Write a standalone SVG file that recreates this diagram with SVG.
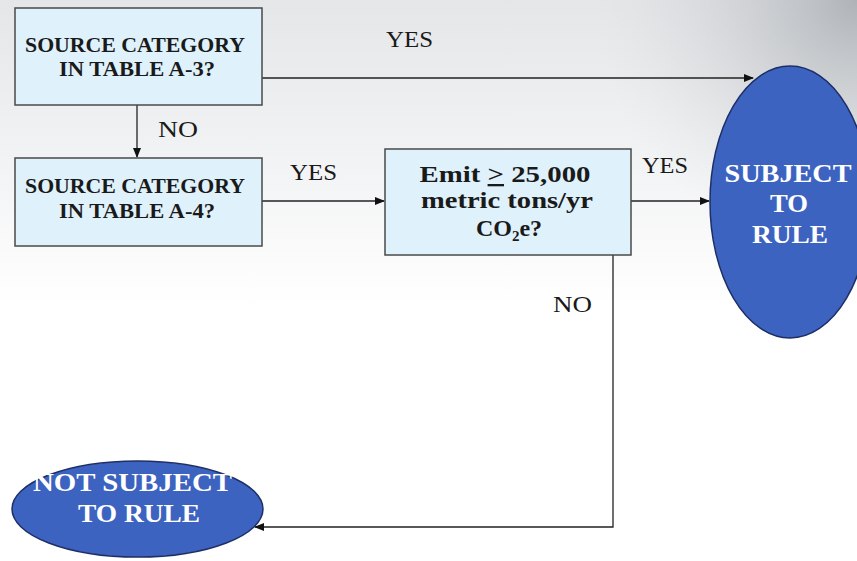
<svg xmlns="http://www.w3.org/2000/svg" width="857" height="561" viewBox="0 0 857 561">
<defs>
<linearGradient id="bg" x1="0" y1="0" x2="0" y2="1">
<stop offset="0" stop-color="#e4e6e8"/>
<stop offset="0.55" stop-color="#ffffff"/>
<stop offset="1" stop-color="#ffffff"/>
</linearGradient>
<radialGradient id="corner" cx="857" cy="0" r="260" gradientUnits="userSpaceOnUse">
<stop offset="0" stop-color="#a9adb2" stop-opacity="0.9"/>
<stop offset="1" stop-color="#d8dadd" stop-opacity="0"/>
</radialGradient>
<marker id="arr" markerWidth="10" markerHeight="8" refX="9" refY="4" orient="auto" markerUnits="userSpaceOnUse">
<path d="M0,0 L10,4 L0,8 Z" fill="#111"/>
</marker>
<style>
text{font-family:"Liberation Serif","DejaVu Serif",serif}
.box{fill:#dff1fb;stroke:#4a4a4a;stroke-width:1.5}
.ell{fill:#3d63c0;stroke:#1f2f66;stroke-width:1.5}
.bt{font-weight:bold;fill:#1a1a1a;text-anchor:middle}
.wt{font-weight:bold;fill:#ffffff;text-anchor:middle}
.lbl{font-size:24px;fill:#1a1a1a}
.con{fill:none;stroke:#222;stroke-width:1.3}
</style>
</defs>
<rect width="857" height="561" fill="url(#bg)"/>
<rect width="857" height="561" fill="url(#corner)"/>

<g id="connectors">
<line class="con" x1="137" y1="105" x2="137" y2="157" marker-end="url(#arr)"/>
<line class="con" x1="262" y1="78" x2="753" y2="78" marker-end="url(#arr)"/>
<line class="con" x1="262" y1="201" x2="384" y2="201" marker-end="url(#arr)"/>
<line class="con" x1="631" y1="201" x2="709" y2="201" marker-end="url(#arr)"/>
<polyline class="con" points="613,255 613,527 255,527" marker-end="url(#arr)"/>
<text class="lbl" x="386" y="47" textLength="47" lengthAdjust="spacingAndGlyphs">YES</text>
<text class="lbl" x="158" y="137" textLength="40" lengthAdjust="spacingAndGlyphs">NO</text>
<text class="lbl" x="290" y="180" textLength="47" lengthAdjust="spacingAndGlyphs">YES</text>
<text class="lbl" x="642" y="173" textLength="46" lengthAdjust="spacingAndGlyphs">YES</text>
<text class="lbl" x="553" y="312" textLength="39" lengthAdjust="spacingAndGlyphs">NO</text>
</g>

<g id="a3">
<rect class="box" x="15" y="8" width="247" height="97"/>
<text class="bt" font-size="21" x="135" y="52" textLength="220" lengthAdjust="spacingAndGlyphs">SOURCE CATEGORY</text>
<text class="bt" font-size="21" x="137" y="76" textLength="156" lengthAdjust="spacingAndGlyphs">IN TABLE A-3?</text>
</g>

<g id="a4">
<rect class="box" x="15" y="158" width="247" height="88"/>
<text class="bt" font-size="21" x="135" y="193" textLength="220" lengthAdjust="spacingAndGlyphs">SOURCE CATEGORY</text>
<text class="bt" font-size="21" x="137" y="218" textLength="156" lengthAdjust="spacingAndGlyphs">IN TABLE A-4?</text>
</g>

<g id="emit">
<rect class="box" x="385" y="149" width="246" height="106"/>
<text class="bt" font-size="23" x="505" y="182" textLength="171" lengthAdjust="spacingAndGlyphs">Emit <tspan text-decoration="underline">&gt;</tspan> 25,000</text>
<text class="bt" font-size="23" x="507" y="208" textLength="172" lengthAdjust="spacingAndGlyphs">metric tons/yr</text>
<text class="bt" font-size="24" x="509" y="236">CO<tspan font-size="15" dy="5">2</tspan><tspan dy="-5">e?</tspan></text>
</g>

<g id="subject">
<ellipse class="ell" cx="790" cy="202" rx="80" ry="136"/>
<text class="wt" font-size="25" x="788" y="182" textLength="127" lengthAdjust="spacingAndGlyphs">SUBJECT</text>
<text class="wt" font-size="26" x="789" y="212" textLength="38" lengthAdjust="spacingAndGlyphs">TO</text>
<text class="wt" font-size="26" x="790" y="243" textLength="76" lengthAdjust="spacingAndGlyphs">RULE</text>
</g>

<g id="notsubject">
<ellipse class="ell" cx="137.5" cy="509" rx="125.5" ry="48"/>
<text class="wt" font-size="25" x="132.5" y="491" textLength="199" lengthAdjust="spacingAndGlyphs">NOT SUBJECT</text>
<text class="wt" font-size="25" x="139" y="522" textLength="122" lengthAdjust="spacingAndGlyphs">TO RULE</text>
</g>
</svg>
